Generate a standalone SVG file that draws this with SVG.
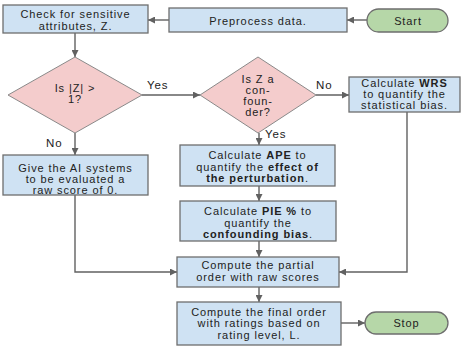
<svg xmlns="http://www.w3.org/2000/svg" width="462" height="347" viewBox="0 0 462 347">
<defs>
<marker id="ah" viewBox="0 0 10 10" refX="10" refY="5" markerWidth="7" markerHeight="7" markerUnits="userSpaceOnUse" orient="auto">
<path d="M0,0 L10,5 L0,10 z" fill="#616161"/>
</marker>
<style>
.box{fill:#cfe2f3;stroke:#6e6e6e;stroke-width:1.3}
.dia{fill:#f4cccc;stroke:#8a8a8a;stroke-width:1}
.term{fill:#b6d7a8;stroke:#6e6e6e;stroke-width:1.3}
text{font-family:"Liberation Sans",Arial,sans-serif;font-size:11px;fill:#222;text-anchor:middle;letter-spacing:0.9px}
.lbl{text-anchor:start;font-size:11.5px}
.b{font-weight:bold}
.c{fill:none;stroke:#616161;stroke-width:1.4;marker-end:url(#ah)}
</style>
</defs>
<g id="connectors">
<path class="c" d="M367,20 L347,20"/>
<path class="c" d="M169,20 L148,20"/>
<path class="c" d="M75,33 L75,57"/>
<path class="c" d="M142,95 L200,95"/>
<path class="c" d="M316,95 L349,95"/>
<path class="c" d="M259,133 L259,145"/>
<path class="c" d="M259,186 L259,201"/>
<path class="c" d="M259,241 L259,257"/>
<path class="c" d="M75,133 L75,155"/>
<path class="c" d="M75,195 L75,272 L177,272"/>
<path class="c" d="M407,112 L407,272 L339,272"/>
<path class="c" d="M259,287 L259,302"/>
<path class="c" d="M341,323 L365,323"/>
<text class="lbl" x="147" y="89">Yes</text>
<text class="lbl" x="316" y="89">No</text>
<text class="lbl" x="265" y="138">Yes</text>
<text class="lbl" x="46" y="147">No</text>
</g>
<g id="start">
<rect class="term" x="367" y="9" width="81" height="23" rx="11.5"/>
<text x="408" y="24.5">Start</text>
</g>
<g id="preprocess">
<rect class="box" x="169" y="8" width="178" height="24"/>
<text x="258" y="24.5">Preprocess data.</text>
</g>
<g id="check">
<rect class="box" x="3" y="5" width="145" height="28"/>
<text x="75.5" y="18">Check for sensitive</text>
<text x="75.5" y="29.5">attributes, Z.</text>
</g>
<g id="decision1">
<polygon class="dia" points="75,57 142,95 75,133 8,95"/>
<text x="75" y="92">Is |Z| &gt;</text>
<text x="75" y="103">1?</text>
</g>
<g id="decision2">
<polygon class="dia" points="258,57 316,95 258,133 200,95"/>
<text x="258" y="83">Is Z a</text>
<text x="258" y="94">con-</text>
<text x="258" y="105">foun-</text>
<text x="258" y="116">der?</text>
</g>
<g id="wrs">
<rect class="box" x="349" y="77" width="111" height="35"/>
<text x="404.5" y="87">Calculate <tspan class="b">WRS</tspan></text>
<text x="404.5" y="98">to quantify the</text>
<text x="404.5" y="109">statistical bias.</text>
</g>
<g id="give">
<rect class="box" x="3" y="155" width="145" height="40"/>
<text x="75.5" y="172">Give the AI systems</text>
<text x="75.5" y="183">to be evaluated a</text>
<text x="75.5" y="194">raw score of 0.</text>
</g>
<g id="ape">
<rect class="box" x="180" y="145" width="155" height="41"/>
<text x="257.5" y="159">Calculate <tspan class="b">APE</tspan> to</text>
<text x="257.5" y="170.5">quantify the <tspan class="b">effect of</tspan></text>
<text x="257.5" y="182"><tspan class="b">the perturbation</tspan>.</text>
</g>
<g id="pie">
<rect class="box" x="180" y="201" width="156" height="40"/>
<text x="258" y="215">Calculate <tspan class="b">PIE %</tspan> to</text>
<text x="258" y="226.5">quantify the</text>
<text x="258" y="238"><tspan class="b">confounding bias</tspan>.</text>
</g>
<g id="partial">
<rect class="box" x="177" y="257" width="162" height="30"/>
<text x="258" y="269">Compute the partial</text>
<text x="258" y="281">order with raw scores</text>
</g>
<g id="final">
<rect class="box" x="177" y="302" width="164" height="43"/>
<text x="259" y="315.5">Compute the final order</text>
<text x="259" y="327">with ratings based on</text>
<text x="259" y="338.5">rating level, L.</text>
</g>
<g id="stop">
<rect class="term" x="365" y="312" width="83" height="22" rx="11"/>
<text x="406.5" y="327">Stop</text>
</g>
</svg>
